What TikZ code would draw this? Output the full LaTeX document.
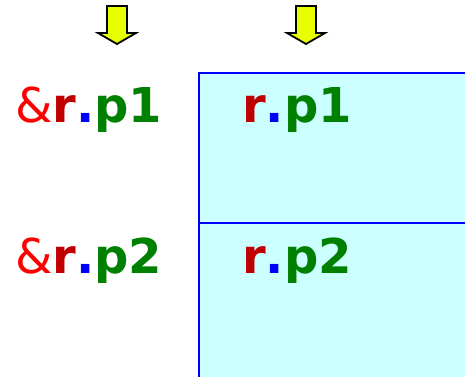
\documentclass[tikz,border=0pt]{standalone}
\usepackage{fontspec}
\setmainfont{DejaVu Sans}
\definecolor{ampred}{RGB}{255,0,0}
\definecolor{rred}{RGB}{192,0,0}
\definecolor{dotblue}{RGB}{0,0,255}
\definecolor{pgreen}{RGB}{0,128,0}
\definecolor{boxfill}{RGB}{204,255,255}
\definecolor{arrowfill}{RGB}{232,255,0}
\newcommand{\reflabel}[2]{{#1}\textbf{\textcolor{rred}{r}\textcolor{dotblue}{.}\textcolor{pgreen}{#2}}}
\tikzset{
  lbl/.style={inner sep=0pt, anchor=base west, font=\fontsize{48}{48}\selectfont},
  downarrow/.style={draw=black, line width=1.8pt, fill=arrowfill, line join=miter},
  cellbox/.style={draw=dotblue, line width=2pt, fill=boxfill}
}
\begin{document}
\begin{tikzpicture}[x=1pt,y=-1pt]
\useasboundingbox (0,0) rectangle (465,376);
% arrows
\draw[downarrow] (107,6) -- (127,6) -- (127,33) -- (136,33) -- (117,44) -- (98,33) -- (107,33) -- cycle;
\draw[downarrow] (296,6) -- (316,6) -- (316,33) -- (325,33) -- (306,44) -- (287,33) -- (296,33) -- cycle;
% box
\draw[cellbox] (199,73) rectangle (470,382);
\draw[draw=dotblue, line width=2pt] (199,223) coordinate (dl) -- (470,223) coordinate (dr);
% labels
\node[lbl] (a1) at (15,122) {\reflabel{\textcolor{ampred}{\&}}{p1}};
\node[lbl] (a2) at (15,273) {\reflabel{\textcolor{ampred}{\&}}{p2}};
\node[lbl] (b1) at (242,122) {\reflabel{}{p1}};
\node[lbl] (b2) at (242,273) {\reflabel{}{p2}};
\end{tikzpicture}
\end{document}
